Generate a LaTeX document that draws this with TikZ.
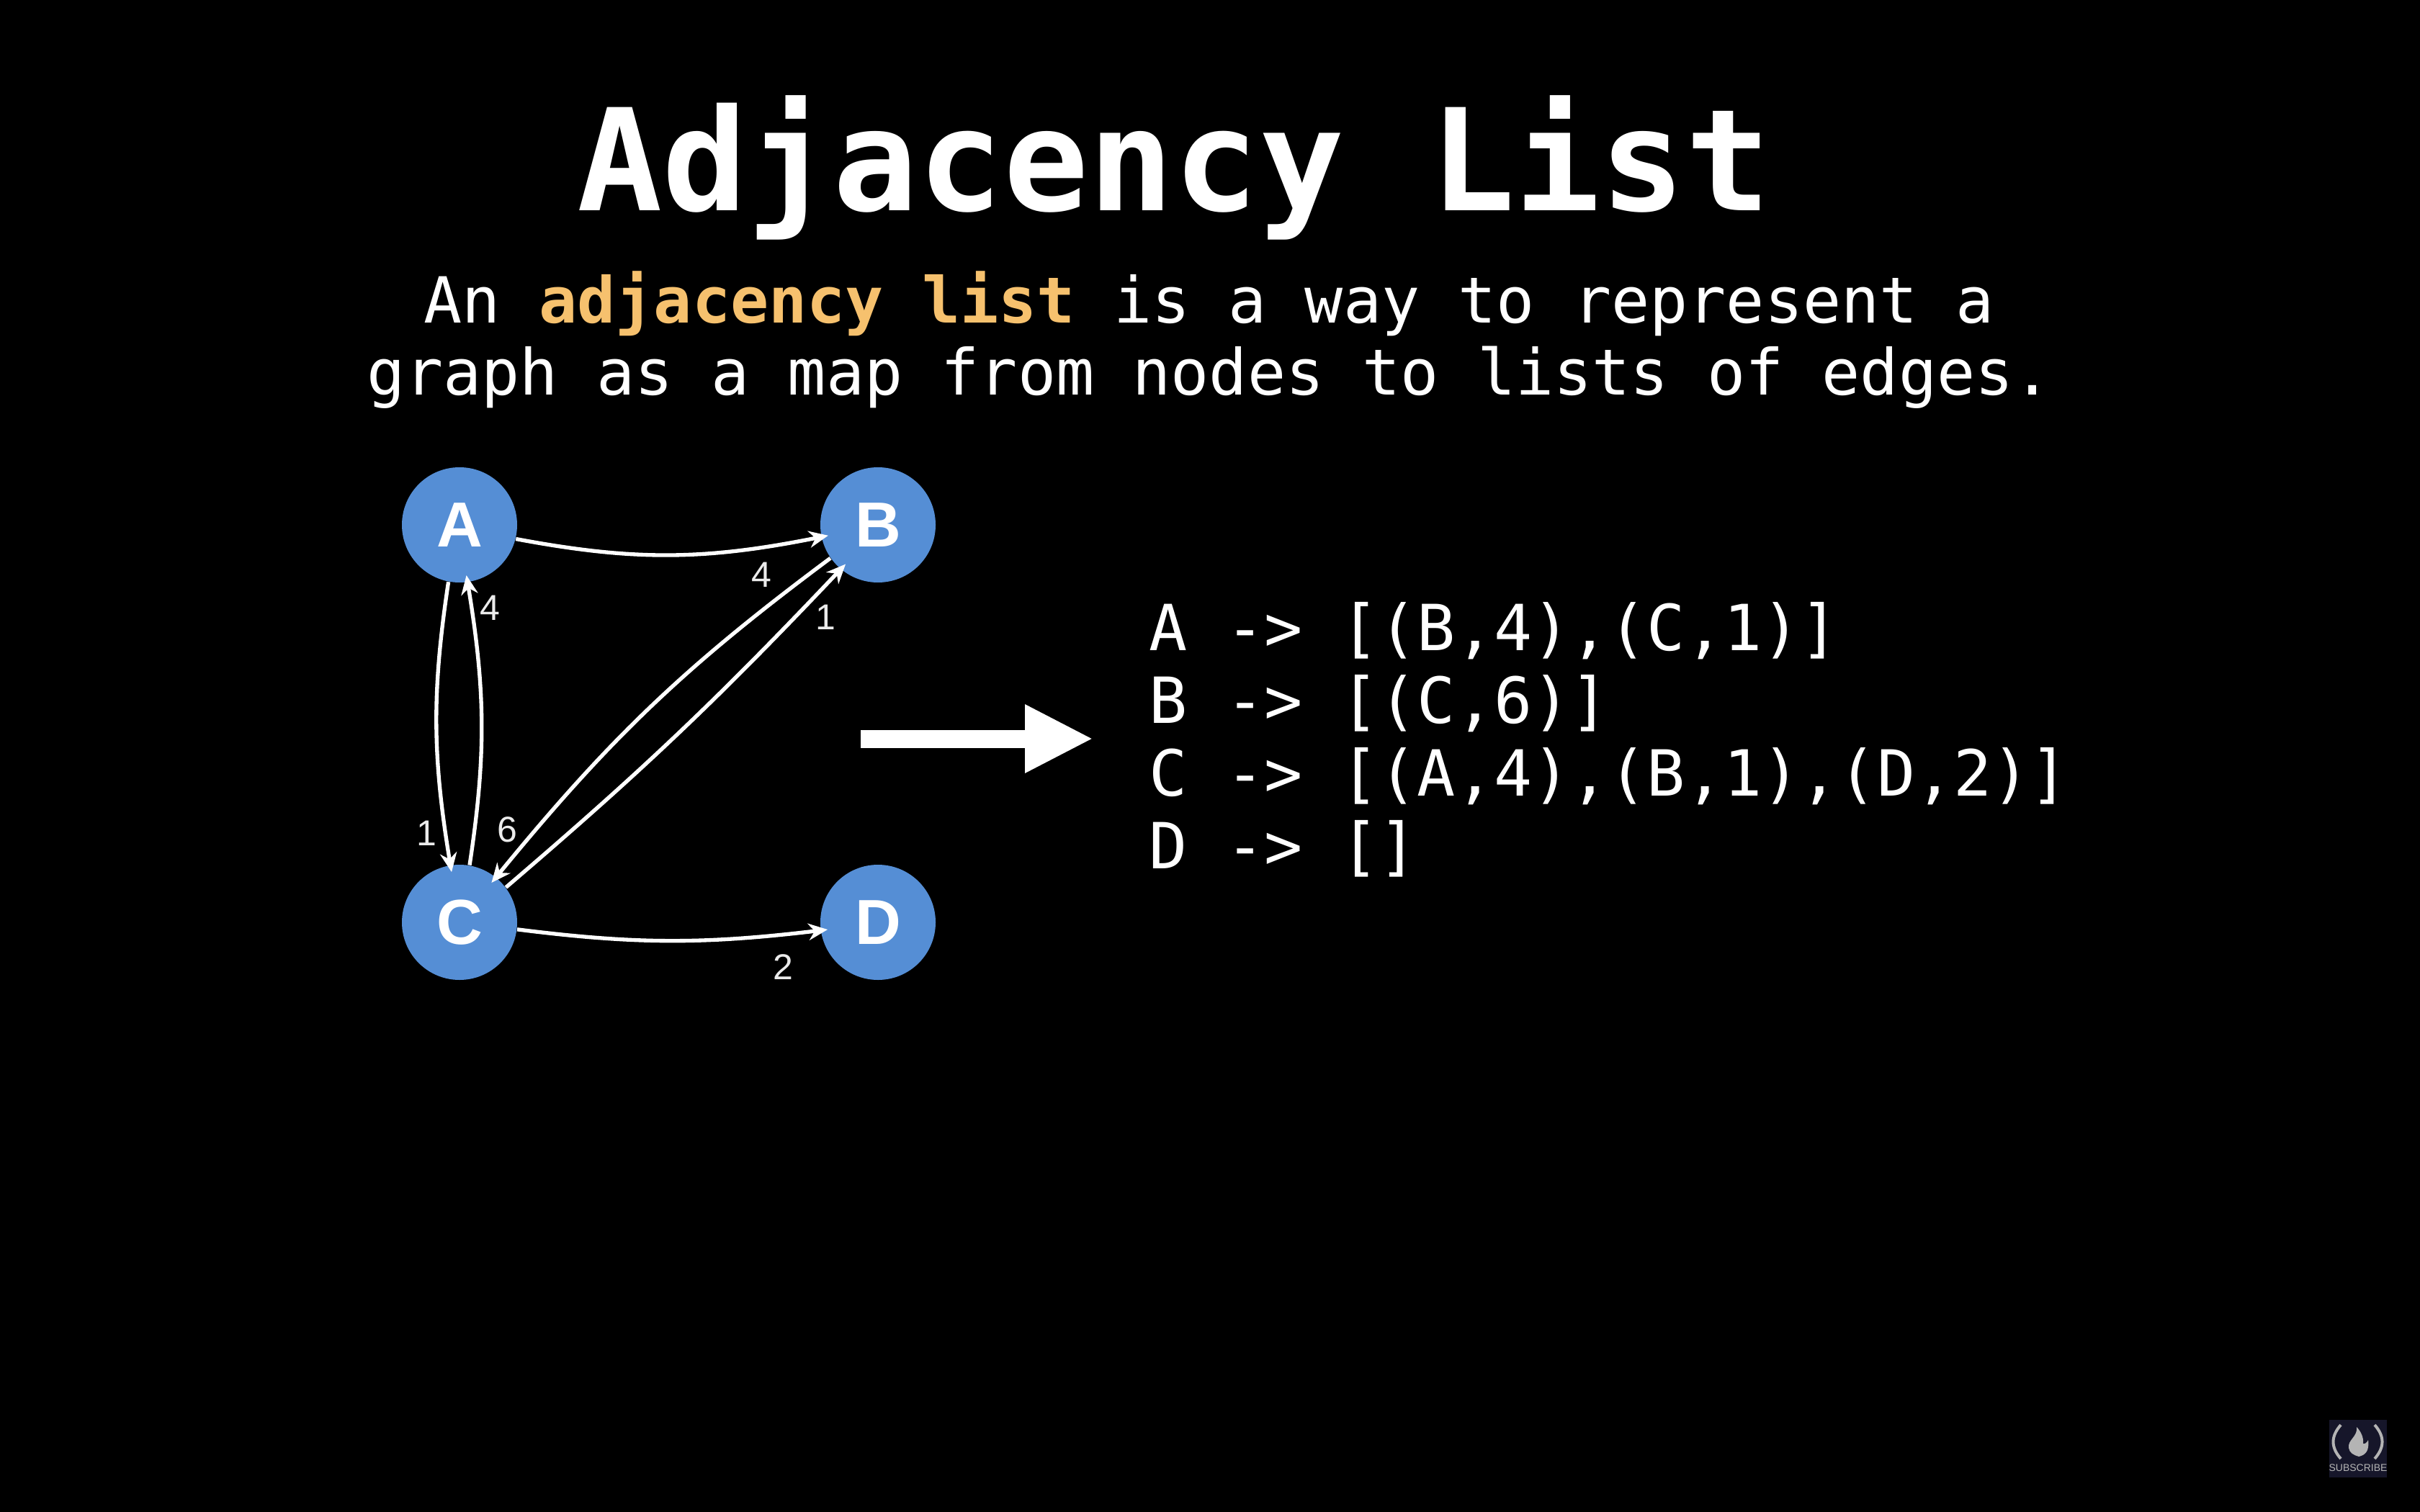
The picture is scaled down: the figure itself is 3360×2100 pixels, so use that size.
\documentclass[tikz,border=0pt]{standalone}
\usepackage{fontspec}
\setmonofont{DejaVu Sans Mono}
\setsansfont{Liberation Sans}
\usetikzlibrary{ arrows.meta
               , positioning
               }
\definecolor{nodeBlue}{HTML}{558ED5}
\definecolor{listOrange}{HTML}{F6C16E}
\definecolor{badgeNavy}{HTML}{16162A}
\definecolor{badgeGrey}{HTML}{B4B4B4}

\begin{document}
\begin{tikzpicture}
      [ x=0.3pt, y=-0.3pt
      , >={Stealth[length=8pt, width=7pt]}
      , vertex/.style={circle, fill=nodeBlue, text=white, minimum size=48pt, inner sep=0pt
                      , font=\sffamily\bfseries\fontsize{26.5}{30}\selectfont}
      , link/.style={->, white, draw, line width=1.6pt, shorten >=-3pt}
      , weight/.style={text=white!92!black, inner sep=0pt, font=\sffamily\fontsize{15}{18}\selectfont}
      , mono/.style={white, inner sep=0pt, font=\ttfamily\fontsize{26.5}{30}\selectfont}
      ]
    \fill[black] (0,0) rectangle (3360,2100);
    \useasboundingbox (0,0) rectangle (3360,2100);

    \node (title) [white, inner sep=0pt, anchor=base, font=\ttfamily\bfseries\fontsize{59}{60}\selectfont]
      at (1630,293) {Adjacency List};
    \node (intro) [mono, anchor=base, align=center] at (1679,548)
      {An \textcolor{listOrange}{\bfseries adjacency list} is a way to represent a\\
       graph as a map from nodes to lists of edges.};

    \node (A) [vertex] at (638,729) {A};
    \node (B) [vertex] at (1219,729) {B};
    \node (C) [vertex] at (638,1281) {C};
    \node (D) [vertex] at (1219,1281) {D};

    \path
    (A.-14) edge[link, bend right=11] node[weight, pos=0.82, below=5.5pt] {4} (B.192)
    (A.-101) edge[link, bend right=9] node[weight, pos=0.9, left=3pt] {1} (C.99)
    (C.80) edge[link, bend right=9] node[weight, pos=0.92, right=2.6pt] {4} (A.-82)
    (B.-145) edge[link, bend right=7] node[weight, pos=0.88, left=7pt] {6} (C.51)
    (C.37) edge[link, bend right=3] node[weight, pos=0.87, right=8pt] {1} (B.-130)
    (C.-7) edge[link, bend right=7] node[weight, pos=0.89, below=7.5pt] {2} (D.188);

    \coordinate (arrowStart) at (1195,1026);
    \coordinate (arrowEnd) at (1518,1026);
    \draw[white, line width=7.5pt, -{Triangle[length=28.5pt, width=26.5pt]}] (arrowStart) -- (arrowEnd);

    \node (listing) [mono, anchor=base west, align=left] at (1595,1206)
      {A -> [(B,4),(C,1)]\\[0.3pt]
       B -> [(C,6)]\\[0.3pt]
       C -> [(A,4),(B,1),(D,2)]\\[0.3pt]
       D -> []};

    % subscribe badge
    \fill[badgeNavy] (3234,1972) rectangle (3314,2052);
    \draw[badgeGrey, line width=1.2pt] (3250,1979) .. controls (3236,1995) and (3236,2010) .. (3250,2026);
    \draw[badgeGrey, line width=1.2pt] (3297,1979) .. controls (3311,1995) and (3311,2010) .. (3297,2026);
    \fill[badgeGrey] (3272,1982) .. controls (3274,1995) and (3259,2000) .. (3261,2011)
      .. controls (3262,2018) and (3268,2021) .. (3275,2023)
      .. controls (3284,2021) and (3290,2015) .. (3288,2000)
      .. controls (3286,2004) and (3283,2006) .. (3281,2005)
      .. controls (3282,1997) and (3278,1988) .. (3272,1982);
    \node (subscribe) [badgeGrey, inner sep=0pt, font=\sffamily\fontsize{4.2}{5}\selectfont] at (3274,2039) {SUBSCRIBE};
    \end{tikzpicture}
\end{document}
